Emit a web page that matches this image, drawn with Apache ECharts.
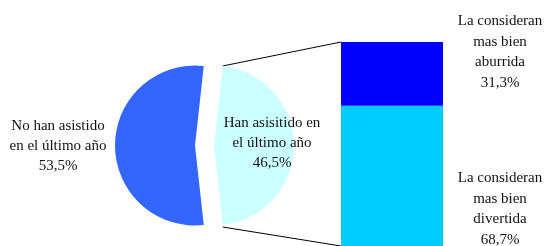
<!DOCTYPE html>
<html>
<head>
<meta charset="utf-8">
<script src="https://cdn.jsdelivr.net/npm/echarts@6/dist/echarts.min.js"></script>
<style>html,body{margin:0;padding:0;background:#fff}#c{width:546px;height:246px}</style>
</head>
<body>
<div id="c"></div>
<script>
// Data
var pieNames = ['Han asisitido en\nel último año', 'No han asistido\nen el último año'];
var pieValues = [46.5, 53.5];
var barNames = ['La consideran\nmas bien\ndivertida', 'La consideran\nmas bien\naburrida'];
var barValues = [68.7, 31.3];

var pieColors = ['#CCFFFF', '#3366FF'];
var barColors = ['#00CCFF', '#0000FF'];
var FONT = 'Liberation Serif';

// Layout
var PIE_CX = 195, PIE_CY = 145.5, PIE_R = 80, EXPLODE = 19;
var BAR_LEFT = 341, BAR_TOP = 42, BAR_W = 102, BAR_H = 206;
var startAngle = (pieValues[0] / 100) * 360 / 2;

function fmtPct(v) { return v.toFixed(1).replace('.', ','); }

var chart = echarts.init(document.getElementById('c'), null, {renderer: 'canvas'});
var barSeries = barValues.map(function (v, i) {
  return {
    type: 'bar',
    stack: 'total',
    barWidth: '100%',
    data: [v],
    itemStyle: {color: barColors[i]},
    label: {
      show: true,
      position: 'right',
      distance: 57,
      align: 'center',
      verticalAlign: 'middle',
      offset: i === 0 ? [0, 33] : [0, -22],
      fontFamily: FONT, fontSize: 15, lineHeight: 20.7, color: '#111',
      formatter: function () { return barNames[i] + '\n' + fmtPct(v) + '%'; }
    },
    silent: true
  };
});

chart.setOption({
  animation: false,
  grid: {left: BAR_LEFT, top: BAR_TOP, width: BAR_W, height: BAR_H, containLabel: false},
  xAxis: {type: 'category', data: ['x'], show: false},
  yAxis: {type: 'value', min: 0, max: 100, show: false},
  series: [{
    type: 'pie',
    center: [PIE_CX, PIE_CY],
    radius: PIE_R,
    startAngle: startAngle,
    clockwise: true,
    selectedMode: 'single',
    selectedOffset: EXPLODE,
    silent: true,
    data: pieValues.map(function (v, i) {
      return {value: v, name: pieNames[i], selected: i === 0, itemStyle: {color: pieColors[i]}};
    }),
    label: {
      show: true,
      position: 'inside',
      fontFamily: FONT, fontSize: 15, lineHeight: 20, color: '#111',
      formatter: function (p) { return p.name + '\n' + fmtPct(p.value) + '%'; }
    },
    labelLayout: function (p) {
      return p.dataIndex === 0
        ? {dx: 15, dy: -2.5}
        : {x: PIE_CX - PIE_R - 57, y: PIE_CY + 1, align: 'center', verticalAlign: 'middle'};
    },
    labelLine: {show: false}
  }].concat(barSeries)
});

// Connector lines from exploded slice edges to bar corners
var a = startAngle * Math.PI / 180;
var sx = PIE_CX + EXPLODE + PIE_R * Math.cos(a);
var syTop = PIE_CY - PIE_R * Math.sin(a);
var syBot = PIE_CY + PIE_R * Math.sin(a);
var barTopY = chart.convertToPixel({yAxisIndex: 0}, 100);
var barBotY = chart.convertToPixel({yAxisIndex: 0}, 0);
chart.setOption({
  graphic: [
    {type: 'line', shape: {x1: sx, y1: syTop, x2: BAR_LEFT, y2: barTopY}, style: {stroke: '#000', lineWidth: 1}, silent: true},
    {type: 'line', shape: {x1: sx, y1: syBot + 2, x2: BAR_LEFT, y2: barBotY}, style: {stroke: '#000', lineWidth: 1}, silent: true}
  ]
});
</script>
</body>
</html>
